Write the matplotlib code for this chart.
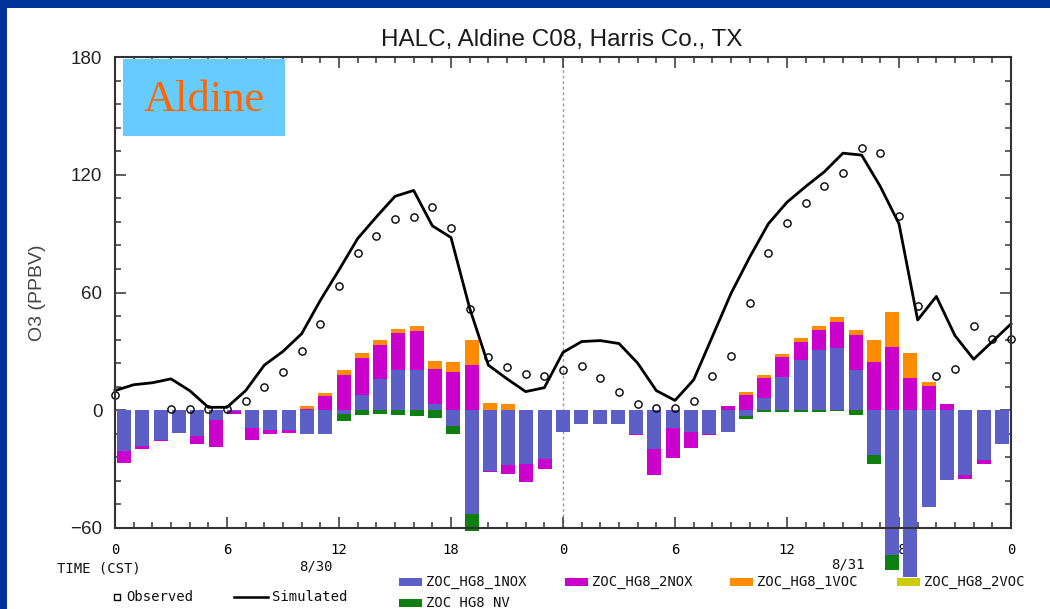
import numpy as np
import matplotlib
matplotlib.use("Agg")
import matplotlib.pyplot as plt
from matplotlib.patches import Rectangle
from matplotlib.lines import Line2D

# ---- data -------------------------------------------------------------
hours = np.arange(49)  # 0..48 h CST, 8/30 00:00 to 8/31 24:00

observed = [8, np.nan, np.nan, 0.5, 0.5, 0.5, 0.5, 4.5, 12, 19.5, 30, 44,
            63.5, 80, 89, 97.5, 98.5, 103.5, 93, 51.5, 27, 22, 18.5, 17.5,
            20.5, 22.5, 16.5, 9.5, 3, 1, 1, 4.5, 17.5, 27.5, 54.5, 80,
            95.5, 105.5, 114.5, 121, 133.5, 131, 99, 53, 17.5, 21, 43, 36.5, 36.5]

simulated = [10, 13, 14, 16, 10, 1.5, 1.5, 10, 23, 30, 39, 56,
             71.5, 87.5, 98.5, 109, 112, 94, 88, 52, 23, 16, 9.5, 11.5,
             29.5, 35, 35.5, 34, 24, 10, 5, 15.5, 37.5, 59.5, 78, 95,
             106, 114, 121.5, 131, 130, 114, 95, 46, 58, 38, 26, 35, 44]

zoc_1nox = [-21, -18, -15, -11.5, -13, -5, -0.5, -9, -10, -10, -12, -12,
            -2, 7.7, 16, 20.4, 20.4, 3, -8.2, -52.8, -31, -28, -27.6, -24.7,
            -11, -6.8, -6.8, -6.8, -12, -19.6, -9, -11, -12, -11, -3, 6,
            17, 25.5, 30.6, 31.5, 20.4, -23, -74, -85, -49.4, -35.7, -33.2, -25.5, -17]

zoc_2nox = [-6, -1.5, -0.5, 0, -4, -13.5, -1.5, -6, -2, -1.5, 0.5, 7.5,
            18, 19, 17.5, 19, 20, 18, 19.6, 23, -0.7, -4.3, -9, -5,
            0, 0, 0, 0, -0.5, -13.6, -15.3, -8, -0.5, 2, 7.7, 10.5,
            10, 9.4, 10.5, 13.6, 17.9, 24.7, 32.3, 16.2, 12.3, 3.4, -1.7, -1.7, 0]

zoc_1voc = [0, 0, 0, 0, 0, 0, 0, 0, 0, 0, 1.5, 1.5,
            2.5, 2.5, 2.4, 2, 2.4, 4, 4.8, 12.8, 3.7, 3, 0, 0,
            0, 0, 0, 0, 0, 0, 0, 0, 0, 0, 1.5, 1.7,
            1.5, 1.7, 1.7, 2.2, 2.5, 11, 17.9, 12.8, 2.2, 0, 0, 0, 0]

zoc_2voc = [0] * 49

zoc_nv = [0, 0, 0, 0, 0, 0, 0, 0, 0, 0, 0, 0,
          -3.5, -2.5, -2, -2.5, -3, -4, -3.7, -8.5, 0, 0, 0, 0,
          0, 0, 0, 0, 0, 0, 0, 0, 0, 0, -1.5, -1,
          -0.8, -0.8, -0.8, -0.5, -2.5, -4.3, -7.6, 0, 0, 0, 0, 0, 0]

series_names = ["ZOC_HG8_1NOX", "ZOC_HG8_2NOX", "ZOC_HG8_1VOC", "ZOC_HG8_2VOC", "ZOC_HG8_NV"]
series_values = [zoc_1nox, zoc_2nox, zoc_1voc, zoc_2voc, zoc_nv]
series_colors = ["#5B5FC6", "#CC00CC", "#FF8C00", "#CCCC00", "#0F800F"]

xtick_labels = ["0", "6", "12", "18", "0", "6", "12", "18", "0"]

# ---- figure -----------------------------------------------------------
W, H = 1050, 609
fig = plt.figure(figsize=(W / 100, H / 100), dpi=100)
fig.patch.set_facecolor("#003399")
fig.add_artist(Rectangle((7 / W, 0), 1 - 7 / W, 1 - 8 / H, transform=fig.transFigure,
                         facecolor="white", edgecolor="none", zorder=-10))

ax = fig.add_axes([115 / W, (H - 528) / H, (1011 - 115) / W, (528 - 57) / H])
ax.set_xlim(0, 48)
ax.set_ylim(-60, 180)

# 49 hourly bars share the 48-hour axis in equal slots
n = len(hours)
slot = 48 / n
xpos = (hours + 0.5) * slot
width = 0.76 * slot

pos_base = np.zeros(n)
neg_base = np.zeros(n)
for vals, col in zip(series_values, series_colors):
    v = np.asarray(vals, dtype=float)
    pos = np.where(v > 0, v, 0.0)
    neg = np.where(v < 0, v, 0.0)
    ax.bar(xpos, pos, width, bottom=pos_base, color=col, linewidth=0,
           clip_on=False, zorder=2)
    ax.bar(xpos, neg, width, bottom=neg_base, color=col, linewidth=0,
           clip_on=False, zorder=2)
    pos_base += pos
    neg_base += neg

ax.axvline(24, color="#999999", lw=1, ls=(0, (2, 2)), zorder=1)

ax.plot(hours, simulated, color="black", lw=2.0, zorder=4, clip_on=False)
ax.plot(hours, observed, ls="none", marker="o", ms=5.2, mfc="none",
        mec="black", mew=1.0, zorder=5, clip_on=False)

# axes styling
ax.set_xticks(np.arange(0, 49, 6))
ax.set_xticks(np.arange(0, 49, 1), minor=True)
ax.set_xticklabels(xtick_labels, fontfamily="DejaVu Sans Mono", fontsize=10)
ax.set_yticks([-60, 0, 60, 120, 180])
ax.set_yticks(np.arange(-60, 181, 12), minor=True)
ax.set_yticklabels(["\u221260", "0", "60", "120", "180"],
                   fontfamily="Liberation Sans", fontsize=13.5, color="#222222")
ax.tick_params(which="both", direction="in", top=True, right=True,
               color="#333333", width=1.1)
ax.tick_params(which="major", length=8)
ax.tick_params(which="minor", length=4)
ax.tick_params(axis="x", which="major", pad=11)
ax.tick_params(axis="y", which="major", pad=9)
for sp in ax.spines.values():
    sp.set_linewidth(1.5)
    sp.set_color("#333333")
    sp.set_zorder(6)

# ---- annotation layer in pixel units ----------------------------------
ov = fig.add_axes([0, 0, 1, 1])
ov.set_xlim(0, W)
ov.set_ylim(H, 0)
ov.axis("off")
ov.patch.set_alpha(0)

ov.text(562, 40, "HALC, Aldine C08, Harris Co., TX", ha="center", va="center",
        fontfamily="Liberation Sans", fontsize=17.5, color="#1a1a1a")
ov.text(38, 293, "O3 (PPBV)", rotation=90, ha="center", va="center",
        fontfamily="Liberation Sans", fontsize=14, color="#444444")

ov.add_patch(Rectangle((123, 59), 162, 77, facecolor="#66CCFF", edgecolor="none"))
ov.text(204, 100, "Aldine", ha="center", va="center",
        fontfamily="Liberation Serif", fontsize=32, color="#FF6600")

mono = dict(fontfamily="DejaVu Sans Mono", fontsize=10, color="#111111", va="center")
ov.text(57, 568, "TIME (CST)", ha="left", **mono)
ov.text(316, 567, "8/30", ha="center", **mono)
ov.text(848, 565, "8/31", ha="center", **mono)

ov.add_line(Line2D([117], [597], marker="s", ms=4.5, mfc="none", mec="black", mew=1))
ov.text(126, 597, "Observed", ha="left", **mono)
ov.add_line(Line2D([234, 268], [597, 597], color="black", lw=1.8))
ov.text(272, 597, "Simulated", ha="left", **mono)

legend_slots = [(399, 582), (565, 582), (730, 582), (897, 582), (399, 603)]
for (lx, ly), name, col in zip(legend_slots, series_names, series_colors):
    ov.add_patch(Rectangle((lx, ly - 4), 23, 8, facecolor=col, edgecolor="none"))
    ov.text(lx + 27, ly, name, ha="left", **mono)

fig.savefig("out.png", dpi=100, facecolor=fig.get_facecolor())
